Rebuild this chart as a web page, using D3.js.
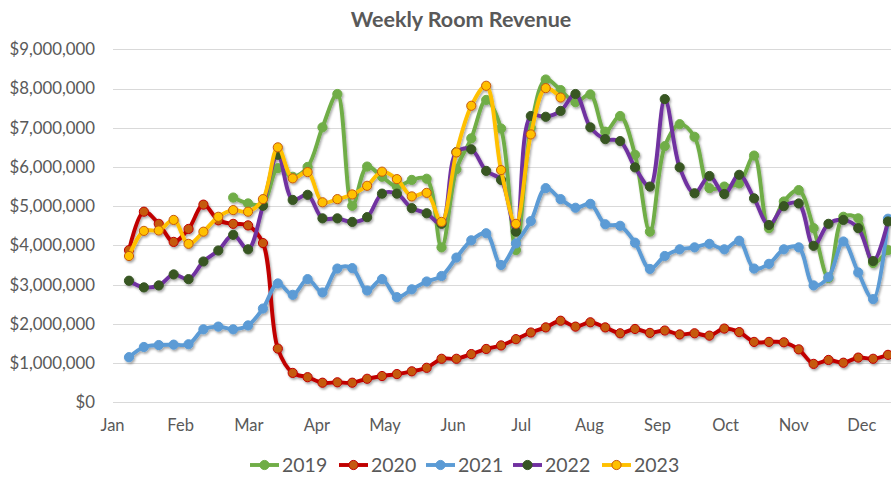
<!DOCTYPE html>
<html>
<head>
<meta charset="utf-8">
<script src="https://cdnjs.cloudflare.com/ajax/libs/d3/7.8.5/d3.min.js"></script>
<style>
    body { margin: 0; background: #fff; }
    #chart { display: block; }
    .axis text { fill: #595959; font-family: Lato, 'Open Sans', sans-serif; }
    .grid line { stroke: #d9d9d9; stroke-width: 1; }
    .title { fill: #595959; font-family: Lato, sans-serif; font-weight: bold; }
    .legend text { fill: #595959; font-family: Lato, sans-serif; }
</style>
</head>
<body>
<svg id="chart" width="891" height="478"></svg>
<script>
// weekly revenue, millions of dollars (week 0 = first week of Jan)
const months = ['Jan', 'Feb', 'Mar', 'Apr', 'May', 'Jun', 'Jul', 'Aug', 'Sep', 'Oct', 'Nov', 'Dec'];
const yTicks = [0, 1, 2, 3, 4, 5, 6, 7, 8, 9];

const rev2019 = [null, null, null, null, null, null, null, 5.22, 5.07, 5.05,
    5.97, 5.75, 6.00, 7.01, 7.86, 5.01, 6.01, 5.75, 5.50, 5.67,
    5.70, 3.95, 5.94, 6.73, 7.71, 6.98, 3.88, 7.00, 8.23, 7.96,
    7.65, 7.85, 6.90, 7.30, 6.31, 4.35, 6.53, 7.09, 6.77, 5.46,
    5.50, 5.58, 6.29, 4.44, 5.12, 5.41, 4.44, 3.17, 4.73, 4.69,
    3.55, 3.88];
const rev2020 = [3.88, 4.86, 4.55, 4.09, 4.42, 5.04, 4.64, 4.55, 4.51, 4.06,
    1.37, 0.75, 0.64, 0.50, 0.51, 0.50, 0.60, 0.67, 0.72, 0.79,
    0.88, 1.11, 1.11, 1.23, 1.36, 1.45, 1.61, 1.78, 1.91, 2.08,
    1.93, 2.04, 1.91, 1.76, 1.87, 1.77, 1.83, 1.73, 1.76, 1.70,
    1.88, 1.79, 1.54, 1.54, 1.53, 1.35, 0.98, 1.08, 1.01, 1.14,
    1.11, 1.21];
const rev2021 = [1.15, 1.41, 1.46, 1.47, 1.48, 1.86, 1.93, 1.86, 1.96, 2.39,
    3.03, 2.74, 3.14, 2.80, 3.41, 3.42, 2.85, 3.14, 2.68, 2.88,
    3.08, 3.22, 3.69, 4.13, 4.31, 3.50, 4.05, 4.62, 5.46, 5.18,
    4.96, 5.06, 4.54, 4.50, 4.07, 3.40, 3.73, 3.90, 3.95, 4.04,
    3.90, 4.12, 3.41, 3.53, 3.90, 3.95, 2.98, 3.19, 4.10, 3.31,
    2.63, 4.68];
const rev2022 = [3.10, 2.93, 2.98, 3.26, 3.14, 3.59, 3.87, 4.27, 3.90, 5.01,
    6.31, 5.16, 5.29, 4.69, 4.69, 4.60, 4.72, 5.32, 5.32, 4.95,
    4.82, 4.55, 6.38, 6.45, 5.90, 5.67, 4.35, 7.30, 7.28, 7.43,
    7.86, 7.01, 6.71, 6.66, 5.99, 5.50, 7.73, 5.99, 5.33, 5.77,
    5.31, 5.80, 5.20, 4.52, 5.00, 5.07, 3.99, 4.55, 4.65, 4.44,
    3.60, 4.61];
const rev2023 = [3.73, 4.37, 4.38, 4.65, 4.04, 4.35, 4.73, 4.90, 4.86, 5.18,
    6.50, 5.71, 5.87, 5.10, 5.18, 5.30, 5.52, 5.88, 5.69, 5.25,
    5.34, 4.60, 6.37, 7.56, 8.07, 5.92, 4.55, 6.83, 8.01, 7.77];

const seriesList = [
    { name: '2019', values: rev2019, line: '#70ad47', fill: '#70ad47', stroke: '#70ad47' },
    { name: '2020', values: rev2020, line: '#c00000', fill: '#c55a11', stroke: '#c00000' },
    { name: '2021', values: rev2021, line: '#5b9bd5', fill: '#5b9bd5', stroke: '#5b9bd5' },
    { name: '2022', values: rev2022, line: '#7030a0', fill: '#375623', stroke: '#375623' },
    { name: '2023', values: rev2023, line: '#ffc000', fill: '#ffc000', stroke: '#c55a11' }
];

const svg = d3.select('#chart');
const W = 891, H = 478;
const DIM = { left: 113, top: 49.3, bottom: 402.3 };

// week axis; months sit about 4.58 weeks apart, Jan a bit left of week 0
const x = d3.scaleLinear().domain([0, 51]).range([129, 888]);
const monthWeek = months.map((m, i) => -1.14 + i * 4.577);
const y = d3.scaleLinear().domain([0, 9]).range([DIM.bottom, DIM.top]);

const defs = svg.append('defs');
const shadow = defs.append('filter').attr('id', 'shadow')
    .attr('x', '-5%').attr('y', '-5%').attr('width', '110%').attr('height', '115%');
shadow.append('feDropShadow')
    .attr('dx', 1.2).attr('dy', 1.8).attr('stdDeviation', 1.2)
    .attr('flood-color', '#000').attr('flood-opacity', 0.35);

svg.append('text')
    .attr('class', 'title')
    .attr('x', 461).attr('y', 27)
    .attr('text-anchor', 'middle')
    .style('font-size', '21.5px')
    .text('Weekly Room Revenue');

// gridlines
svg.append('g').attr('class', 'grid')
    .selectAll('line')
    .data(yTicks)
    .join('line')
    .attr('x1', DIM.left).attr('x2', W)
    .attr('y1', d => Math.round(y(d)) + 0.5)
    .attr('y2', d => Math.round(y(d)) + 0.5);

const yAxis = d3.axisLeft(y)
    .tickValues(yTicks)
    .tickSize(0)
    .tickPadding(18)
    .tickFormat(d => '$' + d3.format(',')(d * 1000000));
svg.append('g').attr('class', 'axis')
    .attr('transform', `translate(${DIM.left},0)`)
    .call(yAxis)
    .call(g => g.select('.domain').remove())
    .selectAll('text').style('font-size', '16.8px');

const xAxis = d3.axisBottom(x)
    .tickValues(monthWeek)
    .tickSize(0)
    .tickPadding(17)
    .tickFormat((d, i) => months[i]);
svg.append('g').attr('class', 'axis')
    .attr('transform', `translate(0,${DIM.bottom})`)
    .call(xAxis)
    .call(g => g.select('.domain').remove())
    .selectAll('text').style('font-size', '16.5px');

const line = d3.line()
    .defined(d => d != null)
    .x((d, i) => x(i))
    .y(d => y(d))
    .curve(d3.curveCatmullRom.alpha(0.5));

const plot = svg.append('g').attr('filter', 'url(#shadow)');
seriesList.forEach(s => {
    const g = plot.append('g');
    g.append('path')
        .datum(s.values)
        .attr('fill', 'none')
        .attr('stroke', s.line)
        .attr('stroke-width', 3.9)
        .attr('stroke-linejoin', 'round')
        .attr('d', line);
    g.selectAll('circle')
        .data(s.values.map((v, i) => ({ v, i })).filter(d => d.v != null))
        .join('circle')
        .attr('cx', d => x(d.i))
        .attr('cy', d => y(d.v))
        .attr('r', 4.6)
        .attr('fill', s.fill)
        .attr('stroke', s.stroke)
        .attr('stroke-width', 1);
});

// legend
const legendX = [250, 339, 426, 513, 602];
const legend = svg.append('g').attr('class', 'legend');
seriesList.forEach((s, i) => {
    const g = legend.append('g').attr('transform', `translate(${legendX[i]},465)`);
    g.append('line')
        .attr('x1', 0).attr('x2', 29)
        .attr('stroke', s.line).attr('stroke-width', 3.9);
    g.append('circle')
        .attr('cx', 14.5).attr('r', 4.6)
        .attr('fill', s.fill).attr('stroke', s.stroke).attr('stroke-width', 1);
    g.append('text')
        .attr('x', 32).attr('y', 7)
        .style('font-size', '19.5px')
        .text(s.name);
});
</script>
</body>
</html>
